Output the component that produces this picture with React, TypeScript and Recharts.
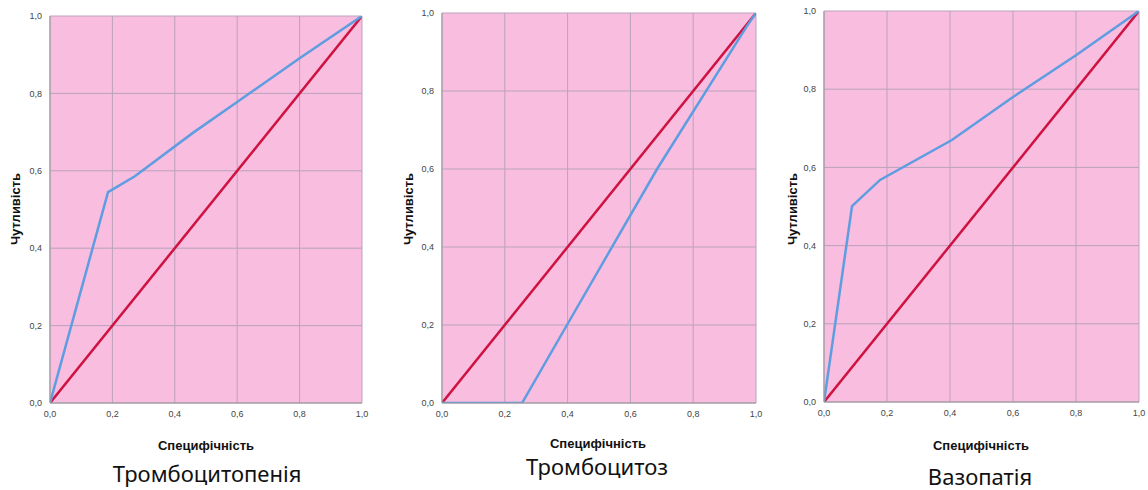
import { LineChart, Line, XAxis, YAxis, CartesianGrid } from 'recharts'

const ticks = [0, 0.2, 0.4, 0.6, 0.8, 1]
const refX = [0, 1]
const refY = [0, 1]

const titles = ['Тромбоцитопенія', 'Тромбоцитоз', 'Вазопатія']
const xTitle = 'Специфічність'
const yTitle = 'Чутливість'

const tpX = [0, 0.186, 0.272, 0.458, 0.609, 0.8, 1]
const tpY = [0, 0.545, 0.586, 0.698, 0.783, 0.891, 1]

const tzX = [0, 0.255, 0.398, 0.685, 0.97, 1]
const tzY = [0, 0, 0.2, 0.6, 0.965, 1]

const vzX = [0, 0.089, 0.178, 0.406, 0.6, 0.8, 1]
const vzY = [0, 0.501, 0.568, 0.67, 0.78, 0.887, 1]

const toPts = (xs: number[], ys: number[]) => xs.map((x, i) => ({ x, y: ys[i] }))

const fmt = (v: number) => v.toFixed(1).replace('.', ',')

// plot rectangles in page pixels
const boxes = [
    { x0: 50, x1: 362, y0: 16, y1: 403, xl: 206, xlY: 451, ttY: 482, yl: 16, ttX: 207 },
    { x0: 442, x1: 756, y0: 13, y1: 403, xl: 598, xlY: 449, ttY: 475, yl: 409, ttX: 597 },
    { x0: 824, x1: 1139, y0: 11, y1: 402, xl: 981, xlY: 451, ttY: 485, yl: 793, ttX: 980 }
]

const series = [toPts(tpX, tpY), toPts(tzX, tzY), toPts(vzX, vzY)]

function Panel({ idx }: { idx: number }) {
    const b = boxes[idx]
    const yAxisW = 30
    const padL = 45
    const left = b.x0 - padL
    const w = b.x1 - b.x0 + padL + 14
    const h = 430
    const xAxisH = 22
    return (
        <>
            <div style={{ position: 'absolute', left, top: 0 }}>
                <LineChart
                    width={w}
                    height={h}
                    margin={{ top: b.y0, left: padL - yAxisW, right: 14, bottom: h - b.y1 - xAxisH }}
                >
                    <CartesianGrid stroke="#b9a3bb" strokeWidth={1} fill="#f9bde0" fillOpacity={1} />
                    <XAxis
                        type="number"
                        dataKey="x"
                        domain={[0, 1]}
                        ticks={ticks}
                        tickFormatter={fmt}
                        height={xAxisH}
                        stroke="#999"
                        tickLine={false}
                        tick={{ fontSize: 9, fill: '#444', fontFamily: 'Liberation Sans' }}
                        allowDataOverflow
                    />
                    <YAxis
                        type="number"
                        dataKey="y"
                        domain={[0, 1]}
                        ticks={ticks}
                        tickFormatter={fmt}
                        width={yAxisW}
                        stroke="#999"
                        tickLine={false}
                        tick={{ fontSize: 9, fill: '#444', fontFamily: 'Liberation Sans' }}
                        allowDataOverflow
                    />
                    <Line
                        data={toPts(refX, refY)}
                        dataKey="y"
                        type="linear"
                        stroke="#cf1240"
                        strokeWidth={2.5}
                        dot={false}
                        isAnimationActive={false}
                    />
                    <Line
                        data={series[idx]}
                        dataKey="y"
                        type="linear"
                        stroke="#5e9de0"
                        strokeWidth={2.5}
                        dot={false}
                        isAnimationActive={false}
                    />
                </LineChart>
            </div>
            <div
                style={{
                    position: 'absolute',
                    left: b.yl - 60,
                    top: 209 - 9,
                    width: 120,
                    textAlign: 'center',
                    transform: 'rotate(-90deg)',
                    fontFamily: 'Liberation Sans',
                    fontWeight: 'bold',
                    fontSize: 13,
                    lineHeight: '18px',
                    color: '#111'
                }}
            >
                {yTitle}
            </div>
            <div
                style={{
                    position: 'absolute',
                    left: b.xl - 80,
                    top: b.xlY - 13,
                    width: 160,
                    textAlign: 'center',
                    fontFamily: 'Liberation Sans',
                    fontWeight: 'bold',
                    fontSize: 13,
                    lineHeight: '15px',
                    color: '#111'
                }}
            >
                {xTitle}
            </div>
            <div
                style={{
                    position: 'absolute',
                    left: b.ttX - 150,
                    top: b.ttY - 22,
                    width: 300,
                    textAlign: 'center',
                    fontFamily: 'Noto Sans',
                    fontSize: 22,
                    lineHeight: '26px',
                    color: '#111'
                }}
            >
                {titles[idx]}
            </div>
        </>
    )
}

export default function App() {
    return (
        <div style={{ position: 'absolute', left: 0, top: 0, width: 1148, height: 490, background: '#fff' }}>
            {boxes.map((_, i) => (
                <Panel key={i} idx={i} />
            ))}
        </div>
    )
}
